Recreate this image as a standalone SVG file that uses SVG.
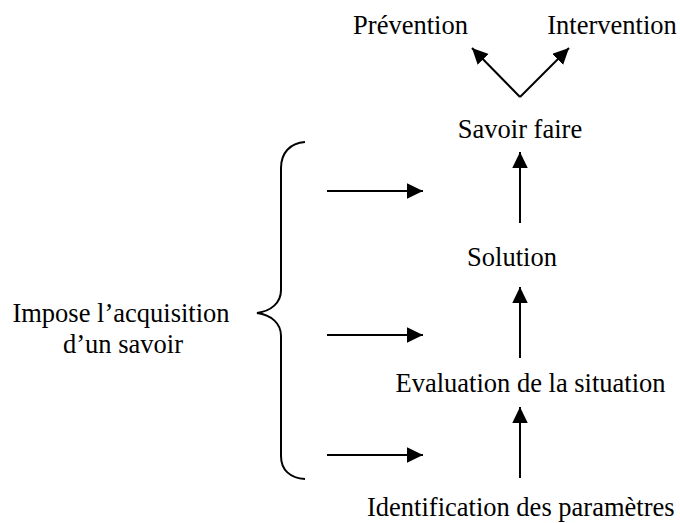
<svg xmlns="http://www.w3.org/2000/svg" width="680" height="523" viewBox="0 0 680 523">
  <style>
    text { font-family: "Liberation Serif", "Times New Roman", serif; font-size: 26.5px; fill: #000; }
    .c { text-anchor: middle; }
    .conn { stroke: #000; stroke-width: 2; fill: none; }
  </style>
  <defs>
    <marker id="ah" markerUnits="userSpaceOnUse" markerWidth="16" markerHeight="16" refX="16" refY="7.75" orient="auto">
      <path d="M0,0 L16,7.75 L0,15.5 z" fill="#000"/>
    </marker>
  </defs>
  <rect width="680" height="523" fill="#fff"/>

  <g id="prevention"><text class="c" x="410.5" y="34">Prévention</text></g>
  <g id="intervention"><text class="c" x="612" y="34">Intervention</text></g>
  <g id="savoir-faire"><text class="c" x="520" y="138">Savoir faire</text></g>
  <g id="solution"><text class="c" x="512" y="266">Solution</text></g>
  <g id="evaluation"><text class="c" x="530.5" y="392">Evaluation de la situation</text></g>
  <g id="identification"><text x="367" y="516">Identification des paramètres</text></g>
  <g id="impose">
    <text class="c" x="121" y="322">Impose l’acquisition</text>
    <text class="c" x="123" y="353">d’un savoir</text>
  </g>
  <g id="brace">
    <path class="conn" d="M305,142 C290,143 281,153 281,168 L281,290 C281,303 271,311 257,313 C271,315 281,323 281,336 L281,456 C281,470 290,478 305,479"/>
  </g>

  <g id="connectors" class="conn">
    <line x1="520" y1="97" x2="472" y2="48" marker-end="url(#ah)"/>
    <line x1="520" y1="97" x2="569" y2="48" marker-end="url(#ah)"/>
    <line x1="520" y1="223" x2="520" y2="152" marker-end="url(#ah)"/>
    <line x1="520" y1="358" x2="520" y2="287" marker-end="url(#ah)"/>
    <line x1="520" y1="478" x2="520" y2="407" marker-end="url(#ah)"/>
    <line x1="327" y1="191" x2="423" y2="191" marker-end="url(#ah)"/>
    <line x1="327" y1="335" x2="423" y2="335" marker-end="url(#ah)"/>
    <line x1="327" y1="455" x2="423" y2="455" marker-end="url(#ah)"/>
  </g>
</svg>
